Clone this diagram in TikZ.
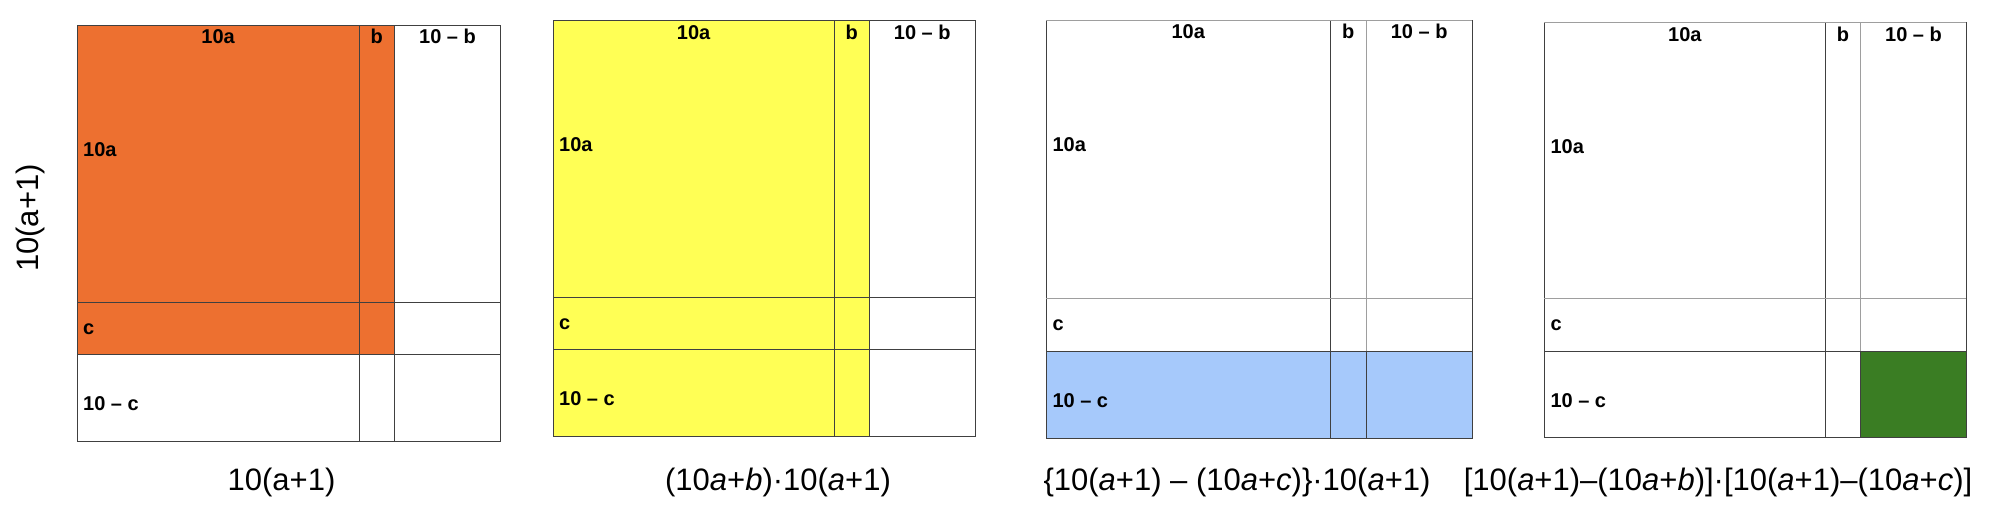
\documentclass[tikz,border=0pt]{standalone}
\usepackage{fontspec}
\setmainfont{Liberation Sans}
\definecolor{orangeC}{HTML}{ED7030}
\definecolor{yellowC}{HTML}{FFFF55}
\definecolor{blueC}{HTML}{A6C9FB}
\definecolor{greenC}{HTML}{3A7D23}
\newcommand\mypanel[9]{%
  \draw[dk] (#1,#3) rectangle (#2,#4);
  \draw[dk] (#5,#3) -- (#5,#4) (#6,#3) -- (#6,#4) (#1,#7) -- (#2,#7) (#1,#8) -- (#2,#8);
  \node[lab,anchor=base] (#9t1) at ({(#1+#5)/2},{#3+18.5}) {10a};
  \node[lab,anchor=base] (#9t2) at ({(#5+#6)/2},{#3+18.5}) {b};
  \node[lab,anchor=base] (#9t3) at ({(#6+#2)/2},{#3+18.5}) {10 – b};
  \node[lab,anchor=base west] (#9l1) at ({#1+6},{#3+131}) {10a};
  \node[lab,anchor=base west] (#9l2) at ({#1+6},{#7+32}) {c};
  \node[lab,anchor=base west] (#9l3) at ({#1+6},{#8+56}) {10 – c};
}
\begin{document}
\begin{tikzpicture}[x=1pt,y=-1pt,
  dk/.style={draw=black!75, line width=1pt},
  lt/.style={draw=black!38, line width=1pt},
  lab/.style={font=\fontsize{20}{24}\selectfont\bfseries, inner sep=0pt},
  captext/.style={font=\fontsize{31}{36}\selectfont, inner sep=0pt, anchor=base}]
\useasboundingbox (0,0) rectangle (2000,532);
\fill[white] (0,0) rectangle (2000,532);
% panel 1
\fill[orangeC] (77,25.3) rectangle (394.3,354);
\mypanel{77}{500.7}{25.3}{441.7}{359.3}{394.3}{302.3}{354}{pa}
% panel 2
\fill[yellowC] (553,21) rectangle (869.3,436.7);
\mypanel{553}{975.3}{21}{436.7}{834.3}{869.3}{297}{349}{pb}
% panel 3
\fill[blueC] (1046.3,351) rectangle (1472.3,438.3);
\mypanel{1046.3}{1472.3}{20.3}{438.3}{1330.3}{1366}{298.7}{351}{pc}
\draw[lt] (1046.3,20.3) -- (1472.3,20.3) (1366,20.3) -- (1366,351) (1046.3,298.7) -- (1472.3,298.7);
% panel 4
\fill[greenC] (1860.7,351) rectangle (1966.3,437.7);
\mypanel{1544.3}{1966.3}{22.7}{437.7}{1825.3}{1860.7}{298.3}{351}{pd}
\draw[lt] (1544.3,22.7) -- (1966.3,22.7) (1860.7,22.7) -- (1860.7,351) (1544.3,298.3) -- (1966.3,298.3);
% captions
\node[captext, anchor=center, rotate=90] (side) at (30,218) {10(a+1)};
\node[captext] (c1) at (281.5,490) {10(a+1)};
\node[captext] (c2) at (778,490) {(10\textit{a}+\textit{b})·10(\textit{a}+1)};
\node[captext] (c3) at (1237,490) {\{10(\textit{a}+1) – (10\textit{a}+\textit{c})\}·10(\textit{a}+1)};
\node[captext] (c4) at (1718,490) {[10(\textit{a}+1)–(10\textit{a}+\textit{b})]·[10(\textit{a}+1)–(10\textit{a}+\textit{c})]};
\end{tikzpicture}
\end{document}
